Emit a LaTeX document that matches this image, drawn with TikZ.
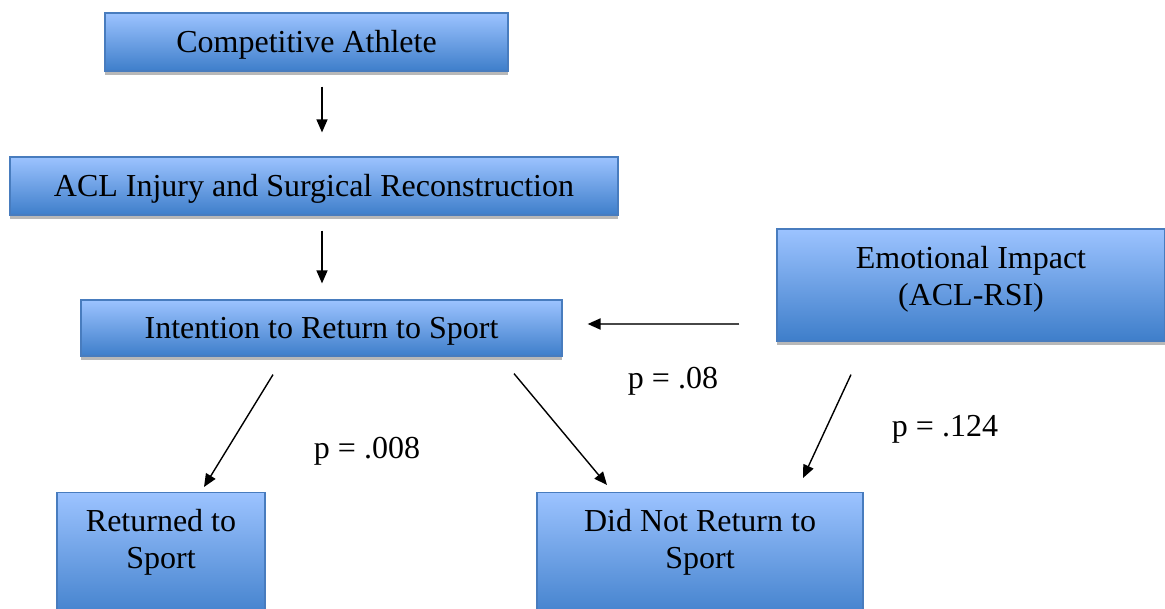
\documentclass[tikz,border=0pt]{standalone}
\usepackage{fontspec}
\setmainfont{Liberation Serif}
\usetikzlibrary{arrows.meta,shadows}
\definecolor{boxtop}{RGB}{156,195,255}
\definecolor{boxbot}{RGB}{62,126,202}
\definecolor{boxline}{RGB}{72,124,190}

\begin{document}
\begin{tikzpicture}[x=1pt,y=-1pt,
  stage/.style={rectangle,draw=boxline,line width=1.2pt,top color=boxtop,bottom color=boxbot,inner sep=0pt,
    drop shadow={shadow xshift=0pt,shadow yshift=-4pt,fill=black!28,opacity=1}},
  txt/.style={font=\fontsize{32}{37}\selectfont,align=center},
  oneline/.style={text height=22pt,text depth=2pt},
  arr/.style={-{Triangle[length=13pt,width=11pt]},line width=1.4pt}
]
\useasboundingbox (0,0) rectangle (1165,608);
\clip (0,0) rectangle (1165,608);

% boxes
\node[stage,txt,oneline,minimum width=403pt,minimum height=58pt] (athlete) at (306.5,42) {Competitive Athlete};
\node[stage,txt,oneline,minimum width=608pt,minimum height=58pt] (acl) at (314,186) {ACL Injury and Surgical Reconstruction};
\node[stage,txt,oneline,minimum width=481pt,minimum height=56pt] (intention) at (321.5,328) {Intention to Return to Sport};
\node[stage,minimum width=388pt,minimum height=112pt] (emotion) at (971,285) {};
\node[txt] (emotiontxt) at (971,279) {Emotional Impact\\(ACL-RSI)};
\node[stage,minimum width=208pt,minimum height=130pt,anchor=north] (returned) at (161,492) {};
\node[txt] (returnedtxt) at (161,542.7) {Returned to\\Sport};
\node[stage,minimum width=326pt,minimum height=130pt,anchor=north] (notret) at (700,492) {};
\node[txt] (notrettxt) at (700,542.7) {Did Not Return to\\Sport};

% p values
\node[txt] (p1) at (367,451) {p = .008};
\node[txt] (p2) at (673,381) {p = .08};
\node[txt] (p3) at (945,429) {p = .124};

% arrows
\draw[arr] ([xshift=15.5pt,yshift=-15pt]athlete.south) -- ([xshift=8pt,yshift=24pt]acl.north);
\draw[arr] ([xshift=8pt,yshift=-15pt]acl.south) -- ([xshift=0.5pt,yshift=16pt]intention.north);
\draw[black!72,line width=2pt,-{Triangle[length=13pt,width=11pt,fill=black,color=black]}] ([xshift=-37pt,yshift=-39pt]emotion.west) -- ([xshift=25pt,yshift=4pt]intention.east);
\draw[arr] ([xshift=-48.5pt,yshift=-18pt]intention.south) -- ([xshift=43pt,yshift=5pt]returned.north);
\draw[arr] ([xshift=192.5pt,yshift=-17pt]intention.south) -- ([xshift=-93pt,yshift=7pt]notret.north);
\draw[arr] ([xshift=-120pt,yshift=-33pt]emotion.south) -- ([xshift=103pt,yshift=14pt]notret.north);
\end{tikzpicture}
\end{document}
